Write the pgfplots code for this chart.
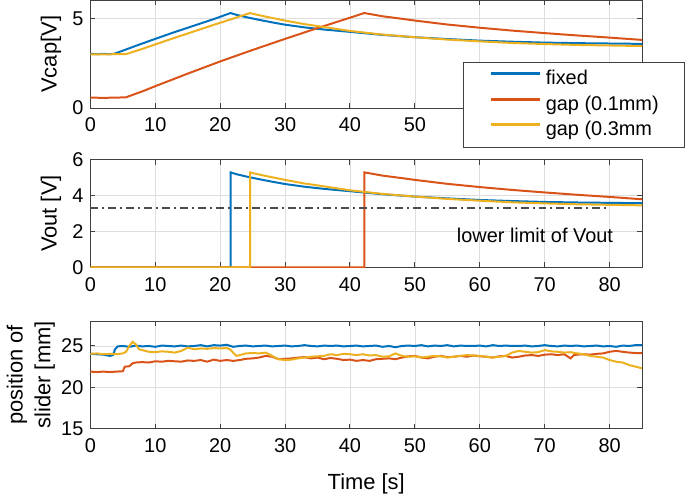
\documentclass[border=0pt]{standalone}
\usepackage{pgfplots}
\pgfplotsset{compat=1.18}
\usepackage{fontspec}
\setmainfont{Liberation Sans}
\definecolor{mblue}{rgb}{0,0.447,0.741}
\definecolor{morange}{rgb}{0.85,0.325,0.098}
\definecolor{myellow}{rgb}{0.929,0.694,0.125}
\pgfplotsset{
  mystyle/.style={
    scale only axis, width=277pt, height=54pt,
    xmin=0, xmax=85, xtick={0,10,...,80},
    grid=major, major grid style={black!13, line width=0.4pt},
    axis line style={black!75, line width=0.5pt},
    tick style={black!75, line width=0.5pt}, major tick length=2.5pt,
    tick label style={font=\fontsize{10}{12}\selectfont},
    xticklabel style={yshift=-1.5pt},
    label style={font=\fontsize{11}{13}\selectfont},
    /pgf/number format/assume math mode=true,
    ylabel style={at={(axis description cs:-0.0713,0.5)}, anchor=center, rotate=0},
    every axis plot/.append style={line width=1pt},
  }
}
\begin{document}
\begin{tikzpicture}
% ---------------- Top: Vcap ----------------
\begin{axis}[mystyle, at={(0pt,0pt)}, anchor=north west,
  ymin=0, ymax=6, ytick={0,5}, ylabel={Vcap[V]},
  xticklabels={0,10,20,30,40,50,{},{},{}},
  legend cell align=left,
  legend image code/.code={\draw[#1, line width=1.5pt] (0pt,0.3em) -- (25pt,0.3em);},
  legend style={at={(0.675,0.426)}, anchor=north west, draw=black!75, fill=white,
    font=\fontsize{10}{12}\selectfont, inner xsep=13pt, inner ysep=4pt,
    row sep=3.3pt, column sep=2pt,
    nodes={inner sep=0pt, text height=7.2pt, text depth=2.2pt}},
]
\addplot[mblue] coordinates {(0,3.02) (1,3.01) (2,3.02) (3,3.01) (3.6,3.02) (5,3.2) (7,3.47) (10,3.86) (13,4.24) (16,4.6) (19,4.96) (21.6,5.3) (22.5,5.2) (24,5.07) (26,4.92) (28,4.78) (30,4.65) (33,4.5) (36,4.38) (40,4.25) (45,4.08) (50,3.95) (55,3.85) (60,3.76) (65,3.7) (70,3.65) (75,3.62) (80,3.6) (85,3.58)};
\addlegendentry{fixed}
\addplot[morange] coordinates {(0,0.58) (2,0.57) (4,0.58) (5.5,0.6) (8,0.93) (10,1.22) (15,1.92) (20,2.6) (25,3.24) (30,3.86) (35,4.46) (40,5.04) (42.2,5.3) (43,5.25) (45,5.12) (48,4.98) (50,4.88) (55,4.66) (60,4.48) (65,4.32) (70,4.18) (75,4.05) (80,3.93) (85,3.8)};
\addlegendentry{gap (0.1mm)}
\addplot[myellow] coordinates {(0,3.0) (3,3.0) (5.5,3.01) (8,3.3) (10,3.55) (13,3.92) (16,4.28) (19,4.64) (22,4.99) (24.6,5.3) (25.5,5.22) (27,5.1) (30,4.88) (33,4.68) (36,4.52) (40,4.3) (45,4.1) (50,3.95) (55,3.82) (60,3.72) (65,3.63) (70,3.57) (75,3.52) (80,3.49) (85,3.46)};
\addlegendentry{gap (0.3mm}
\end{axis}
% ---------------- Middle: Vout ----------------
\begin{axis}[mystyle, at={(0pt,-80pt)}, anchor=north west,
  ymin=0, ymax=6, ytick={0,2,4,6}, ylabel={Vout [V]}]
\addplot[mblue] coordinates {(0,0) (21.6,0) (21.6,5.3) (22.5,5.2) (24,5.07) (26,4.92) (28,4.78) (30,4.65) (33,4.5) (36,4.38) (40,4.25) (45,4.08) (50,3.95) (55,3.85) (60,3.76) (65,3.7) (70,3.65) (75,3.62) (80,3.6) (85,3.58)};
\addplot[morange] coordinates {(0,0) (42.2,0) (42.2,5.3) (43,5.25) (45,5.12) (48,4.98) (50,4.88) (55,4.66) (60,4.48) (65,4.32) (70,4.18) (75,4.05) (80,3.93) (85,3.8)};
\addplot[myellow] coordinates {(0,0) (24.6,0) (24.6,5.3) (25.5,5.22) (27,5.1) (30,4.88) (33,4.68) (36,4.52) (40,4.3) (45,4.1) (50,3.95) (55,3.82) (60,3.72) (65,3.63) (70,3.57) (75,3.52) (80,3.49) (85,3.46)};
\addplot[black!70, line width=0.8pt, dash pattern=on 4pt off 2pt on 1pt off 2pt] coordinates {(0,3.3) (80,3.3)};
\node[font=\fontsize{10}{12}\selectfont] at (axis cs:68.5,1.8) {lower limit of Vout};
\end{axis}
% ---------------- Bottom: slider position ----------------
\begin{axis}[mystyle, at={(0pt,-161pt)}, anchor=north west,
  ymin=15, ymax=28, ytick={15,20,25},
  ylabel={position of\\slider [mm]},
  ylabel style={at={(axis description cs:-0.108,0.5)}, align=center, font=\fontsize{11}{14}\selectfont},
  xlabel={Time [s]},
  xlabel style={at={(axis description cs:0.5,-0.51)}, anchor=center}]
\addplot[mblue] coordinates {(0,24.05) (1,24.0) (2,23.95) (3,23.8) (3.5,23.9) (3.8,24.6) (4.2,24.95) (5,25.0) (6,24.9) (7,25.05) (8,24.95) (9,25.0) (10,24.9) (11,25.05) (12,25.0) (13,24.95) (14,25.05) (15,24.95) (16,25.0) (17,25.1) (18,24.95) (19,25.1) (20,25.05) (21,25.15) (22,24.9) (23,25.0) (24,25.05) (25,24.95) (26,25.0) (27,25.05) (28,24.95) (29,25.0) (30,25.05) (31,24.95) (32,25.0) (33,25.1) (34,25.0) (35,24.95) (36,25.05) (37,25.0) (38,25.05) (39,24.95) (40,25.0) (41,25.05) (42,24.95) (43,25.0) (44,25.05) (45,24.9) (46,25.0) (47,24.85) (48,25.0) (49,25.05) (50,25.0) (51,25.1) (52,24.95) (53,25.05) (54,25.0) (55,25.1) (56,24.95) (57,25.05) (58,25.0) (59,25.0) (60,25.05) (61,24.95) (62,25.1) (63,25.0) (64,25.05) (65,25.0) (66,25.0) (67,25.05) (68,24.95) (69,25.0) (70,25.1) (71,25.0) (72,24.95) (73,25.05) (74,25.0) (75,25.05) (76,24.95) (77,25.0) (78,25.05) (79,24.95) (80,25.0) (81,24.9) (82,25.05) (83,25.0) (84,25.1) (85,25.1)};
\addplot[morange] coordinates {(0,21.9) (1,21.85) (2,21.9) (3,21.85) (4,21.9) (5,21.95) (5.3,22.5) (6,22.55) (6.5,22.9) (7,23.0) (8,23.05) (9,23.0) (10,23.15) (11,23.1) (12,23.2) (13,23.15) (14,23.1) (15,23.25) (16,23.2) (17,23.3) (18,23.1) (19,23.35) (20,23.2) (21,23.3) (22,23.2) (23,23.3) (24,23.45) (25,23.5) (26,23.6) (27,23.8) (28,23.7) (29,23.4) (30,23.45) (31,23.5) (32,23.6) (33,23.65) (34,23.5) (35,23.6) (36,23.4) (37,23.55) (38,23.45) (39,23.3) (40,23.35) (41,23.2) (42,23.3) (43,23.2) (44,23.4) (45,23.45) (46,23.5) (47,23.4) (48,23.6) (49,23.75) (50,23.8) (51,23.6) (52,23.5) (53,23.7) (54,23.8) (55,23.65) (56,23.7) (57,23.8) (58,23.7) (59,23.85) (60,23.75) (61,23.7) (62,23.6) (63,23.75) (64,23.8) (65,23.6) (66,23.7) (67,23.85) (68,23.9) (69,23.8) (70,23.95) (71,24.0) (72,23.9) (73,24.0) (74,23.5) (74.5,23.9) (75,23.95) (76,24.0) (77,23.95) (78,24.05) (79,24.1) (80,24.3) (81,24.4) (82,24.3) (83,24.2) (84,24.15) (85,24.15)};
\addplot[myellow] coordinates {(0,24.05) (1,24.1) (2,24.0) (3,24.05) (4,24.0) (5,24.1) (5.5,24.3) (6,25.0) (6.5,25.5) (7,25.2) (7.5,24.6) (8,24.5) (9,24.3) (10,24.25) (11,24.35) (12,24.3) (13,24.2) (14,24.4) (15,24.8) (16,24.6) (17,24.7) (18,24.65) (19,24.75) (20,24.7) (21,24.75) (21.5,24.6) (22,24.2) (22.5,23.8) (23,23.9) (24,24.1) (25,24.15) (26,24.1) (27,24.2) (28,23.8) (29,23.4) (30,23.3) (31,23.35) (32,23.5) (33,23.6) (34,23.7) (35,23.75) (36,23.8) (37,24.0) (38,23.9) (39,24.05) (40,24.0) (41,23.9) (42,24.0) (43,23.85) (44,23.9) (45,23.7) (46,23.75) (47,24.1) (48,23.8) (49,23.7) (50,23.75) (51,23.6) (52,23.7) (53,23.8) (54,23.75) (55,23.6) (56,23.7) (57,23.8) (58,23.9) (59,23.85) (60,23.8) (61,23.7) (62,23.6) (63,23.7) (64,23.8) (65,24.2) (66,24.4) (67,24.3) (68,24.2) (69,24.25) (70,24.5) (71,24.35) (72,24.3) (73,24.2) (74,24.25) (75,24.1) (76,24.0) (77,23.8) (78,23.7) (79,23.6) (80,23.3) (81,23.1) (82,23.0) (83,22.7) (84,22.5) (85,22.3)};
\end{axis}
\end{tikzpicture}
\end{document}
